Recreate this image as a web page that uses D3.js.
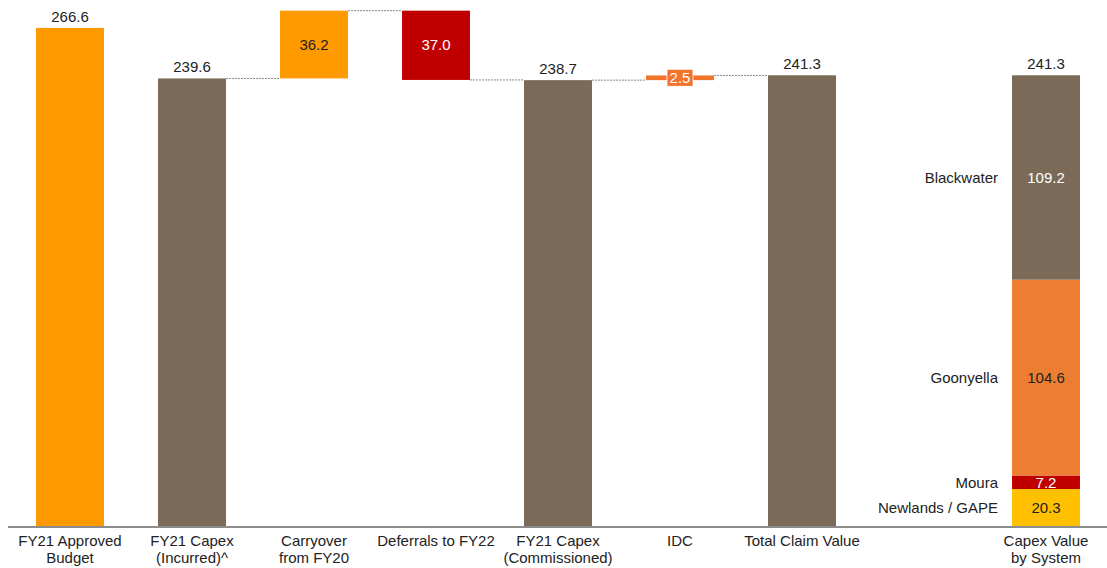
<!DOCTYPE html>
<html>
<head>
<meta charset="utf-8">
<script src="https://cdn.jsdelivr.net/npm/d3@7"></script>
<style>
  body { margin: 0; background: #fff; }
  text { font-family: "Liberation Sans", Arial, sans-serif; fill: #222; }
</style>
</head>
<body>
<svg id="chart" width="1107" height="568"></svg>
<script>
////// DATA

// Waterfall-Schritte
var stepNames = ["FY21 Approved|Budget", "FY21 Capex|(Incurred)^", "Carryover|from FY20", "Deferrals to FY22", "FY21 Capex|(Commissioned)", "IDC", "Total Claim Value"];
var stepValues = [266.6, 239.6, 36.2, -37.0, 238.7, 2.5, 241.3];
var stepKinds = ["total", "total", "delta", "delta", "total", "delta", "total"];

// gestapelte Säule rechts
var systemCategory = "Capex Value|by System";
var systemNames = ["Newlands / GAPE", "Moura", "Goonyella", "Blackwater"];
var systemValues = [20.3, 7.2, 104.6, 109.2];

////// STYLE

var stepColors = ["#FF9900", "#7B6A58", "#FF9900", "#C00000", "#7B6A58", "#F4732A", "#7B6A58"];
var stepTextColors = ["#222", "#222", "#222", "#fff", "#222", "#fff", "#222"];
var systemColors = ["#FFC000", "#C00000", "#ED7D31", "#7B6A58"];
var systemTextColors = ["#222", "#fff", "#222", "#fff"];

var width = 1107, height = 568, baseY = 527, fs = "15px";

var svg = d3.select("#chart");

// Slots: Schritte, eine Lücke, dann die Systemsäule
var slots = stepNames.concat(["", systemCategory]);

var x = d3.scaleBand()
  .domain(slots)
  .range([9, 9 + 122 * slots.length])
  .paddingInner(0.443)
  .paddingOuter(0.2215);

var y = d3.scaleLinear()
  .domain([0, 281.5])
  .range([baseY, 0]);

// Start/Ende jedes Schritts berechnen
var running = 0;
var steps = stepNames.map(function(name, i) {
  var v = stepValues[i], lo, hi, end;
  if (stepKinds[i] === "total") {
    lo = 0; hi = v; end = v;
  } else {
    var start = running;
    end = start + v;
    lo = Math.min(start, end); hi = Math.max(start, end);
  }
  running = end;
  return { name: name, value: v, kind: stepKinds[i], lo: lo, hi: hi, end: end, i: i };
});

// Verbindungslinien (gestrichelt), nicht zwischen Budget und Capex
for (var i = 2; i < steps.length; i++) {
  var prev = steps[i - 1];
  svg.append("line")
    .attr("x1", x(prev.name) + x.bandwidth())
    .attr("x2", x(steps[i].name))
    .attr("y1", y(prev.end))
    .attr("y2", y(prev.end))
    .style("stroke", "#8a8a8a")
    .style("stroke-width", 1)
    .style("stroke-dasharray", "2,1");
}

// Balken
svg.selectAll("rect.step")
  .data(steps)
  .enter().append("rect")
  .attr("class", "step")
  .attr("x", function(d) { return x(d.name); })
  .attr("y", function(d) { return y(d.hi); })
  .attr("width", x.bandwidth())
  .attr("height", function(d) { return Math.max(y(d.lo) - y(d.hi), 0); })
  .style("fill", function(d) { return stepColors[d.i]; });

// Beschriftungen der Schritte
steps.forEach(function(d) {
  var cx = x(d.name) + x.bandwidth() / 2;
  var label = Math.abs(d.value).toFixed(1);
  if (d.kind === "total") {
    svg.append("text")
      .attr("x", cx).attr("y", y(d.hi) - 6)
      .attr("text-anchor", "middle")
      .style("font-size", fs)
      .text(label);
  } else if (y(d.lo) - y(d.hi) > 20) {
    svg.append("text")
      .attr("x", cx).attr("y", (y(d.lo) + y(d.hi)) / 2 + 5)
      .attr("text-anchor", "middle")
      .style("font-size", fs)
      .style("fill", stepTextColors[d.i])
      .text(label);
  } else {
    // kleiner Schritt: Label mit Kasten
    var my = (y(d.lo) + y(d.hi)) / 2;
    svg.append("rect")
      .attr("x", cx - 13).attr("y", my - 8.5)
      .attr("width", 26).attr("height", 17)
      .style("fill", stepColors[d.i])
      .style("stroke", "#fff")
      .style("stroke-width", 0.8);
    svg.append("text")
      .attr("x", cx).attr("y", my + 5.5)
      .attr("text-anchor", "middle")
      .style("font-size", fs)
      .style("fill", stepTextColors[d.i])
      .text(label);
  }
});

// gestapelte Säule
var cum = 0;
var segs = systemNames.map(function(n, i) {
  var s = { name: n, value: systemValues[i], lo: cum, hi: cum + systemValues[i], i: i };
  cum += systemValues[i];
  return s;
});
var sx = x(systemCategory);

svg.selectAll("rect.sys")
  .data(segs)
  .enter().append("rect")
  .attr("class", "sys")
  .attr("x", sx)
  .attr("y", function(d) { return y(d.hi); })
  .attr("width", x.bandwidth())
  .attr("height", function(d) { return y(d.lo) - y(d.hi); })
  .style("fill", function(d) { return systemColors[d.i]; });

svg.selectAll("text.sysval")
  .data(segs)
  .enter().append("text")
  .attr("class", "sysval")
  .attr("x", sx + x.bandwidth() / 2)
  .attr("y", function(d) { return (y(d.lo) + y(d.hi)) / 2 + 5.5; })
  .attr("text-anchor", "middle")
  .style("font-size", fs)
  .style("fill", function(d) { return systemTextColors[d.i]; })
  .text(function(d) { return d.value.toFixed(1); });

svg.selectAll("text.sysname")
  .data(segs)
  .enter().append("text")
  .attr("class", "sysname")
  .attr("x", sx - 14)
  .attr("y", function(d) { return (y(d.lo) + y(d.hi)) / 2 + 5.5; })
  .attr("text-anchor", "end")
  .style("font-size", fs)
  .text(function(d) { return d.name; });

svg.append("text")
  .attr("x", sx + x.bandwidth() / 2).attr("y", y(cum) - 6)
  .attr("text-anchor", "middle")
  .style("font-size", fs)
  .text(cum.toFixed(1));

// Achse
var axis = svg.append("g")
  .attr("transform", "translate(0," + baseY + ")")
  .call(d3.axisBottom(x).tickSize(0).tickFormat(""));
axis.select(".domain")
  .attr("d", "M8,0H1107")
  .style("stroke", "#8c8c8c")
  .style("stroke-width", 2);

axis.selectAll(".tick").each(function(d) {
  var t = d3.select(this).append("text")
    .attr("text-anchor", "middle")
    .attr("y", 19)
    .style("font-size", fs)
    .style("fill", "#222");
  d.split("|").forEach(function(line, k) {
    t.append("tspan").attr("x", 0).attr("dy", k === 0 ? 0 : 17).text(line);
  });
});
</script>
</body>
</html>
